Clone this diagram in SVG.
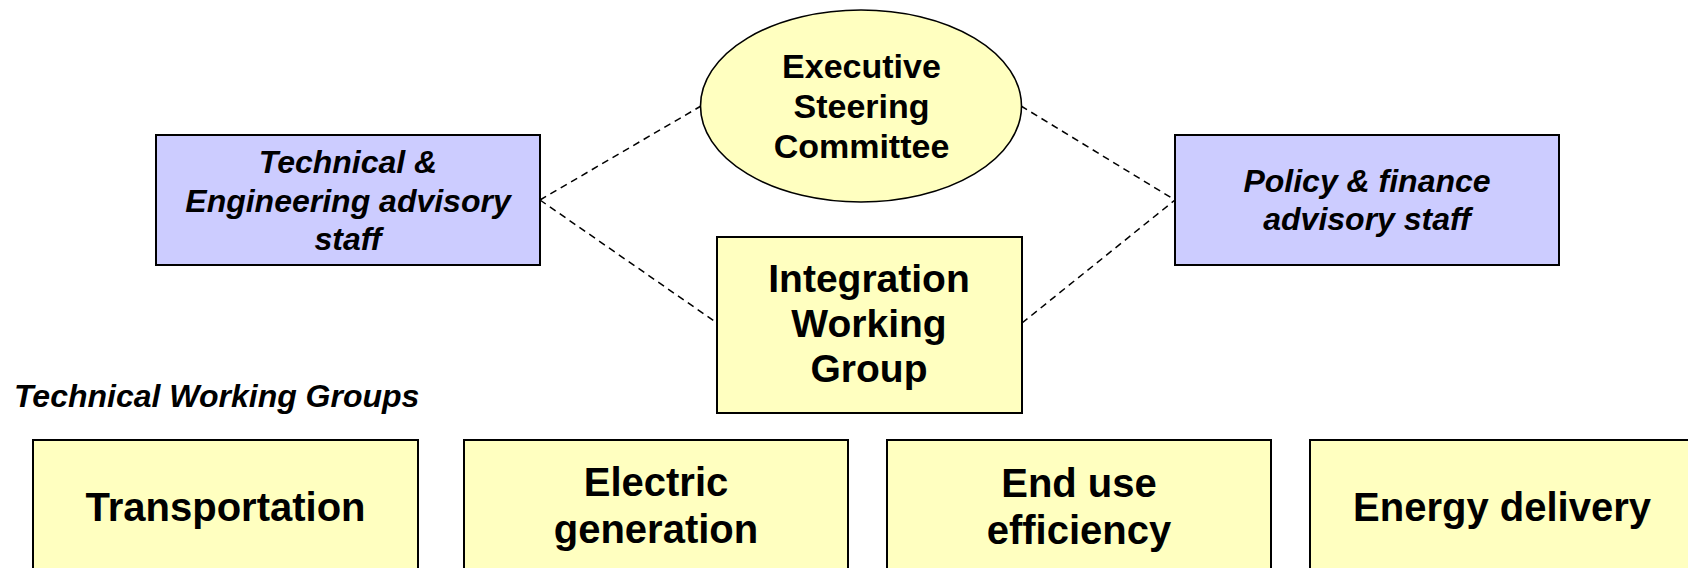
<svg xmlns="http://www.w3.org/2000/svg" width="1688" height="568" viewBox="0 0 1688 568">
<style>
  .yel { fill: #FFFFC0; stroke: #000; stroke-width: 2; }
  .lav { fill: #CCCCFF; stroke: #000; stroke-width: 2; }
  .t { font-family: "Liberation Sans", Arial, sans-serif; font-weight: bold; fill: #000; text-anchor: middle; }
  .it { font-style: italic; font-size: 32px; }
  .dash { stroke: #000; stroke-width: 1.5; stroke-dasharray: 7 5; fill: none; }
</style>
<rect width="1688" height="568" fill="#FFFFFF"/>
<g id="connectors">
  <line class="dash" x1="540" y1="200" x2="701" y2="106"/>
  <line class="dash" x1="540" y1="200" x2="717" y2="323"/>
  <line class="dash" x1="1021" y1="106" x2="1175" y2="200"/>
  <line class="dash" x1="1022" y1="323" x2="1175" y2="200"/>
</g>
<g id="executive">
  <ellipse class="yel" cx="861" cy="106" rx="160.5" ry="96" style="stroke-width:1.6"/>
  <text class="t" x="861.5" y="78" font-size="34">Executive</text>
  <text class="t" x="861.5" y="118" font-size="34">Steering</text>
  <text class="t" x="861.5" y="158" font-size="34">Committee</text>
</g>
<g id="tech-advisory">
  <rect class="lav" x="156" y="135" width="384" height="130"/>
  <text class="t it" x="348" y="173">Technical &amp;</text>
  <text class="t it" x="348" y="212">Engineering advisory</text>
  <text class="t it" x="348" y="250">staff</text>
</g>
<g id="policy-advisory">
  <rect class="lav" x="1175" y="135" width="384" height="130"/>
  <text class="t it" x="1367" y="192">Policy &amp; finance</text>
  <text class="t it" x="1367" y="230">advisory staff</text>
</g>
<g id="integration">
  <rect class="yel" x="717" y="237" width="305" height="176"/>
  <text class="t" x="869" y="292" font-size="39">Integration</text>
  <text class="t" x="869" y="337" font-size="39">Working</text>
  <text class="t" x="869" y="382" font-size="39">Group</text>
</g>
<g id="twg-label">
  <text class="t it" x="14" y="407" style="text-anchor:start">Technical Working Groups</text>
</g>
<g id="transportation">
  <rect class="yel" x="33" y="440" width="385" height="150"/>
  <text class="t" x="225.5" y="521" font-size="40">Transportation</text>
</g>
<g id="electric">
  <rect class="yel" x="464" y="440" width="384" height="150"/>
  <text class="t" x="656" y="496" font-size="40">Electric</text>
  <text class="t" x="656" y="543" font-size="40">generation</text>
</g>
<g id="enduse">
  <rect class="yel" x="887" y="440" width="384" height="150"/>
  <text class="t" x="1079" y="497" font-size="40">End use</text>
  <text class="t" x="1079" y="544" font-size="40">efficiency</text>
</g>
<g id="energy">
  <rect class="yel" x="1310" y="440" width="385" height="150"/>
  <text class="t" x="1502" y="521" font-size="40">Energy delivery</text>
</g>
</svg>
